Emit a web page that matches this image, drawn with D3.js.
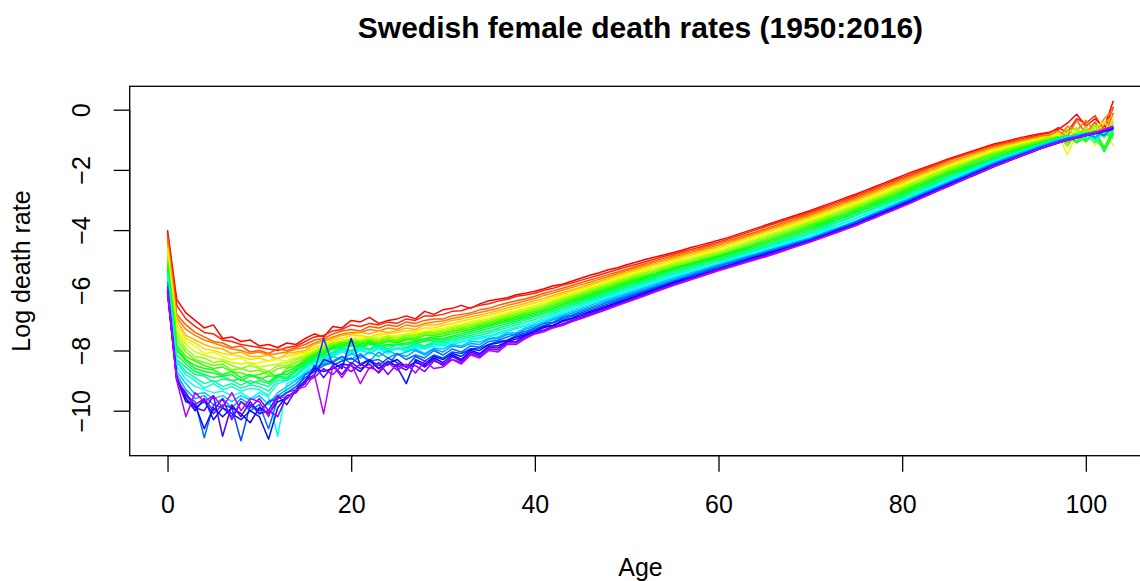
<!DOCTYPE html>
<html><head><meta charset="utf-8">
<script src="https://cdn.jsdelivr.net/npm/d3@7"></script>
<style>
html,body{margin:0;padding:0;background:#fff;overflow:hidden;}
text{font-family:"Liberation Sans",Arial,Helvetica,sans-serif;fill:#000;}
</style></head>
<body>
<svg id="chart" width="1140" height="581"></svg>
<script>
// ---- data (log death rates by age 0..103) ----
const titleText = "Swedish female death rates (1950:2016)";
const xLabel = "Age";
const yLabel = "Log death rate";
const xTicks = [0, 20, 40, 60, 80, 100];
const yTicks = [0, -2, -4, -6, -8, -10];
const firstYear = 1950, lastYear = 2016;
const ages = d3.range(0, 104);

const rate1950 = [-4.0,-6.3,-6.75,-7.0,-7.25,-7.15,-7.6,-7.55,-7.7,-7.65,
-7.85,-7.8,-7.9,-7.75,-7.8,-7.6,-7.45,-7.55,-7.2,-7.25,
-7.0,-7.05,-6.9,-7.1,-7.0,-6.95,-6.85,-6.95,-6.7,-6.8,
-6.65,-6.6,-6.5,-6.6,-6.45,-6.35,-6.3,-6.25,-6.15,-6.1,
-6.03,-5.95,-5.85,-5.8,-5.7,-5.6,-5.5,-5.42,-5.32,-5.25,
-5.15,-5.07,-4.98,-4.9,-4.83,-4.75,-4.67,-4.58,-4.5,-4.42,
-4.34,-4.25,-4.15,-4.05,-3.95,-3.85,-3.75,-3.65,-3.55,-3.45,
-3.35,-3.24,-3.13,-3.02,-2.91,-2.8,-2.68,-2.56,-2.44,-2.32,
-2.2,-2.08,-1.97,-1.86,-1.75,-1.64,-1.54,-1.44,-1.34,-1.24,
-1.14,-1.07,-1.0,-0.92,-0.86,-0.8,-0.75,-0.65,-0.45,-0.15,
-0.55,-0.3,-0.6,0.3];
const rate1952 = [-4.1,-6.5,-6.95,-7.2,-7.4,-7.45,-7.65,-7.7,-7.8,-7.85,
-7.9,-7.95,-8.0,-7.9,-7.85,-7.7,-7.55,-7.5,-7.35,-7.3,
-7.15,-7.2,-7.1,-7.15,-7.05,-7.1,-6.95,-7.0,-6.85,-6.85,
-6.8,-6.7,-6.68,-6.58,-6.5,-6.45,-6.36,-6.3,-6.2,-6.16,
-6.1,-6.0,-5.93,-5.83,-5.76,-5.67,-5.58,-5.49,-5.4,-5.31,
-5.22,-5.14,-5.05,-4.97,-4.88,-4.8,-4.72,-4.64,-4.56,-4.48,
-4.4,-4.3,-4.2,-4.1,-4.0,-3.9,-3.8,-3.7,-3.6,-3.5,
-3.4,-3.29,-3.18,-3.07,-2.96,-2.85,-2.73,-2.61,-2.49,-2.37,
-2.25,-2.14,-2.02,-1.91,-1.79,-1.68,-1.58,-1.48,-1.38,-1.28,
-1.18,-1.11,-1.04,-0.97,-0.9,-0.83,-0.78,-0.6,-0.75,-0.3,
-0.45,-0.2,-0.7,0.1];
const rate1955 = [-4.25,-6.8,-7.15,-7.4,-7.55,-7.7,-7.75,-7.9,-7.85,-8.05,
-8.0,-8.1,-7.95,-8.0,-7.9,-7.8,-7.65,-7.6,-7.45,-7.35,
-7.3,-7.35,-7.2,-7.25,-7.15,-7.2,-7.05,-7.1,-7.0,-6.95,
-6.95,-6.85,-6.8,-6.75,-6.65,-6.6,-6.5,-6.42,-6.35,-6.28,
-6.2,-6.1,-6.02,-5.93,-5.84,-5.75,-5.66,-5.57,-5.48,-5.39,
-5.3,-5.21,-5.12,-5.03,-4.94,-4.85,-4.77,-4.69,-4.61,-4.53,
-4.45,-4.35,-4.26,-4.16,-4.07,-3.97,-3.87,-3.76,-3.66,-3.55,
-3.45,-3.34,-3.23,-3.12,-3.01,-2.9,-2.78,-2.66,-2.54,-2.42,
-2.3,-2.18,-2.06,-1.94,-1.82,-1.7,-1.6,-1.5,-1.4,-1.3,
-1.21,-1.14,-1.07,-1.0,-0.93,-0.87,-0.85,-0.7,-0.9,-0.35,
-0.8,-0.4,-0.9,-0.1];
const rate1957 = [-4.35,-6.9,-7.3,-7.5,-7.65,-7.75,-7.85,-7.95,-8.0,-8.1,
-8.05,-8.15,-8.1,-8.05,-7.95,-7.9,-7.75,-7.65,-7.55,-7.45,
-7.4,-7.4,-7.3,-7.35,-7.25,-7.3,-7.15,-7.2,-7.1,-7.05,
-7.02,-6.94,-6.88,-6.8,-6.74,-6.67,-6.6,-6.5,-6.43,-6.35,
-6.27,-6.17,-6.09,-6.0,-5.91,-5.82,-5.73,-5.63,-5.54,-5.44,
-5.35,-5.26,-5.17,-5.08,-4.99,-4.9,-4.82,-4.74,-4.66,-4.58,
-4.5,-4.4,-4.31,-4.21,-4.12,-4.02,-3.92,-3.81,-3.71,-3.6,
-3.5,-3.39,-3.28,-3.17,-3.06,-2.95,-2.83,-2.71,-2.59,-2.47,
-2.35,-2.23,-2.11,-2.0,-1.88,-1.76,-1.66,-1.56,-1.45,-1.35,
-1.25,-1.18,-1.11,-1.04,-0.97,-0.9,-0.82,-0.95,-0.55,-0.7,
-0.35,-0.75,-0.3,0.0];
const rate1960 = [-4.5,-7.0,-7.5,-7.65,-7.8,-7.9,-7.95,-8.1,-8.05,-8.2,
-8.2,-8.15,-8.3,-8.1,-8.05,-8.0,-7.8,-7.7,-7.6,-7.5,
-7.45,-7.4,-7.45,-7.35,-7.4,-7.35,-7.25,-7.3,-7.15,-7.15,
-7.1,-7.0,-6.95,-6.88,-6.82,-6.75,-6.67,-6.59,-6.51,-6.43,
-6.35,-6.26,-6.17,-6.08,-5.99,-5.9,-5.8,-5.7,-5.6,-5.5,
-5.4,-5.31,-5.22,-5.13,-5.04,-4.95,-4.87,-4.79,-4.71,-4.63,
-4.55,-4.45,-4.35,-4.25,-4.15,-4.05,-3.95,-3.85,-3.75,-3.65,
-3.55,-3.44,-3.33,-3.22,-3.11,-3.0,-2.88,-2.76,-2.64,-2.52,
-2.4,-2.28,-2.16,-2.04,-1.92,-1.8,-1.69,-1.58,-1.47,-1.37,
-1.28,-1.2,-1.13,-1.06,-0.99,-0.93,-0.88,-1.0,-0.65,-0.9,
-0.55,-0.95,-0.45,-0.2];
const rate1962 = [-4.6,-7.15,-7.6,-7.75,-7.95,-8.0,-8.1,-8.15,-8.2,-8.3,
-8.25,-8.35,-8.25,-8.2,-8.1,-8.05,-7.9,-7.8,-7.65,-7.6,
-7.5,-7.5,-7.55,-7.45,-7.45,-7.4,-7.35,-7.35,-7.25,-7.25,
-7.17,-7.1,-7.03,-6.96,-6.89,-6.82,-6.74,-6.66,-6.58,-6.5,
-6.42,-6.33,-6.23,-6.14,-6.04,-5.95,-5.85,-5.75,-5.65,-5.55,
-5.45,-5.36,-5.27,-5.18,-5.09,-5.0,-4.92,-4.84,-4.76,-4.68,
-4.6,-4.5,-4.4,-4.3,-4.2,-4.1,-4.0,-3.9,-3.8,-3.7,
-3.6,-3.49,-3.38,-3.27,-3.16,-3.05,-2.93,-2.81,-2.69,-2.57,
-2.45,-2.33,-2.21,-2.09,-1.97,-1.85,-1.74,-1.64,-1.53,-1.43,
-1.32,-1.25,-1.17,-1.1,-1.02,-0.95,-0.9,-0.8,-1.1,-0.6,
-0.9,-0.5,-0.95,-0.3];
const rate1965 = [-4.7,-7.3,-7.7,-7.85,-8.1,-8.05,-8.2,-8.3,-8.25,-8.45,
-8.4,-8.35,-8.3,-8.35,-8.15,-8.1,-7.95,-7.85,-7.7,-7.65,
-7.6,-7.55,-7.6,-7.5,-7.55,-7.5,-7.45,-7.4,-7.35,-7.3,
-7.25,-7.18,-7.11,-7.04,-6.97,-6.9,-6.82,-6.74,-6.66,-6.58,
-6.5,-6.4,-6.3,-6.2,-6.1,-6.0,-5.9,-5.8,-5.7,-5.6,
-5.5,-5.41,-5.32,-5.23,-5.14,-5.05,-4.97,-4.89,-4.81,-4.73,
-4.65,-4.55,-4.45,-4.35,-4.25,-4.15,-4.05,-3.95,-3.85,-3.75,
-3.65,-3.54,-3.43,-3.32,-3.21,-3.1,-2.98,-2.86,-2.74,-2.62,
-2.5,-2.37,-2.25,-2.13,-2.01,-1.89,-1.78,-1.67,-1.56,-1.45,
-1.35,-1.27,-1.19,-1.11,-1.04,-0.97,-0.95,-0.85,-1.5,-0.8,
-0.7,-1.2,-0.6,-1.2];
const rate1967 = [-4.8,-7.4,-7.8,-8.05,-8.15,-8.25,-8.3,-8.4,-8.45,-8.4,
-8.55,-8.5,-8.45,-8.4,-8.25,-8.15,-8.0,-7.85,-7.75,-7.7,
-7.6,-7.65,-7.55,-7.6,-7.5,-7.55,-7.45,-7.45,-7.4,-7.35,
-7.3,-7.23,-7.16,-7.09,-7.02,-6.95,-6.87,-6.79,-6.71,-6.63,
-6.55,-6.45,-6.35,-6.25,-6.15,-6.05,-5.95,-5.85,-5.75,-5.65,
-5.55,-5.46,-5.37,-5.28,-5.19,-5.1,-5.02,-4.94,-4.86,-4.78,
-4.7,-4.6,-4.5,-4.4,-4.3,-4.2,-4.1,-4.0,-3.9,-3.8,
-3.7,-3.59,-3.48,-3.37,-3.26,-3.15,-3.03,-2.91,-2.79,-2.67,
-2.55,-2.43,-2.3,-2.18,-2.05,-1.93,-1.82,-1.71,-1.61,-1.5,
-1.39,-1.31,-1.23,-1.15,-1.08,-1.0,-0.95,-0.75,-1.2,-0.7,
-1.1,-0.6,-0.4,-0.8];
const rate1970 = [-4.9,-7.5,-7.95,-8.2,-8.25,-8.4,-8.35,-8.5,-8.6,-8.5,
-8.6,-8.7,-8.5,-8.5,-8.3,-8.2,-8.05,-7.9,-7.75,-7.7,
-7.65,-7.7,-7.6,-7.65,-7.55,-7.6,-7.5,-7.5,-7.4,-7.4,
-7.35,-7.28,-7.21,-7.14,-7.07,-7.0,-6.92,-6.84,-6.76,-6.68,
-6.6,-6.5,-6.4,-6.3,-6.2,-6.1,-6.0,-5.9,-5.8,-5.7,
-5.6,-5.51,-5.42,-5.33,-5.24,-5.15,-5.07,-4.99,-4.91,-4.83,
-4.75,-4.65,-4.55,-4.45,-4.35,-4.25,-4.15,-4.05,-3.95,-3.85,
-3.75,-3.64,-3.53,-3.42,-3.31,-3.2,-3.08,-2.96,-2.84,-2.72,
-2.6,-2.47,-2.34,-2.21,-2.09,-1.97,-1.86,-1.75,-1.64,-1.53,
-1.43,-1.34,-1.25,-1.17,-1.09,-1.02,-0.9,-1.05,-0.75,-0.6,
-0.95,-0.5,-0.85,-0.4];
const rate1972 = [-5.0,-7.65,-8.05,-8.3,-8.4,-8.5,-8.45,-8.65,-8.6,-8.7,
-8.65,-8.8,-8.6,-8.55,-8.4,-8.25,-8.1,-7.95,-7.8,-7.75,
-7.7,-7.7,-7.65,-7.7,-7.6,-7.65,-7.55,-7.55,-7.45,-7.45,
-7.4,-7.33,-7.26,-7.19,-7.12,-7.05,-6.97,-6.89,-6.81,-6.73,
-6.65,-6.55,-6.45,-6.35,-6.25,-6.15,-6.05,-5.95,-5.85,-5.75,
-5.65,-5.56,-5.47,-5.38,-5.29,-5.2,-5.12,-5.04,-4.96,-4.88,
-4.8,-4.7,-4.6,-4.5,-4.4,-4.3,-4.2,-4.1,-4.0,-3.9,
-3.8,-3.69,-3.58,-3.47,-3.36,-3.25,-3.13,-3.01,-2.89,-2.77,
-2.65,-2.52,-2.4,-2.27,-2.15,-2.02,-1.91,-1.8,-1.68,-1.57,
-1.46,-1.38,-1.3,-1.21,-1.13,-1.05,-0.98,-0.9,-1.2,-0.8,
-0.65,-1.0,-0.7,-0.5];
const rate1975 = [-5.1,-7.8,-8.2,-8.35,-8.5,-8.6,-8.55,-8.7,-8.75,-8.85,
-8.8,-8.7,-8.9,-8.6,-8.5,-8.3,-8.1,-8.0,-7.85,-7.75,
-7.7,-7.75,-7.7,-7.75,-7.65,-7.7,-7.6,-7.6,-7.5,-7.5,
-7.45,-7.38,-7.31,-7.24,-7.17,-7.1,-7.02,-6.94,-6.86,-6.78,
-6.7,-6.6,-6.5,-6.4,-6.3,-6.2,-6.1,-6.0,-5.9,-5.8,
-5.7,-5.61,-5.52,-5.43,-5.34,-5.25,-5.17,-5.09,-5.01,-4.93,
-4.85,-4.75,-4.65,-4.55,-4.45,-4.35,-4.25,-4.15,-4.05,-3.95,
-3.85,-3.74,-3.63,-3.52,-3.41,-3.3,-3.18,-3.06,-2.94,-2.82,
-2.7,-2.57,-2.44,-2.31,-2.19,-2.07,-1.95,-1.83,-1.71,-1.6,
-1.5,-1.41,-1.32,-1.24,-1.16,-1.08,-1.0,-0.9,-1.1,-0.85,
-0.75,-1.0,-1.3,-0.6];
const rate1977 = [-5.2,-7.9,-8.3,-8.5,-8.6,-8.65,-8.8,-8.7,-8.9,-8.8,
-8.95,-8.85,-8.85,-8.7,-8.55,-8.35,-8.15,-8.05,-7.9,-7.8,
-7.75,-7.8,-7.7,-7.8,-7.7,-7.75,-7.65,-7.65,-7.6,-7.55,
-7.52,-7.44,-7.37,-7.3,-7.22,-7.15,-7.07,-6.99,-6.91,-6.83,
-6.75,-6.65,-6.55,-6.45,-6.35,-6.25,-6.15,-6.05,-5.95,-5.85,
-5.75,-5.66,-5.56,-5.47,-5.37,-5.28,-5.2,-5.12,-5.03,-4.95,
-4.87,-4.78,-4.68,-4.59,-4.49,-4.4,-4.3,-4.2,-4.1,-4.0,
-3.9,-3.79,-3.68,-3.57,-3.46,-3.35,-3.23,-3.11,-2.99,-2.87,
-2.75,-2.62,-2.49,-2.37,-2.24,-2.11,-2.0,-1.89,-1.77,-1.66,
-1.55,-1.46,-1.37,-1.29,-1.2,-1.11,-1.03,-0.95,-0.85,-1.1,
-0.9,-0.7,-1.25,-0.75];
const rate1980 = [-5.3,-8.0,-8.35,-8.6,-8.7,-8.75,-8.85,-8.8,-9.0,-8.85,
-8.9,-9.05,-8.8,-8.8,-8.6,-8.4,-8.2,-8.1,-7.9,-7.85,
-7.8,-7.85,-7.75,-7.85,-7.8,-7.8,-7.75,-7.7,-7.65,-7.6,
-7.6,-7.52,-7.44,-7.36,-7.28,-7.2,-7.12,-7.04,-6.96,-6.88,
-6.8,-6.7,-6.6,-6.5,-6.4,-6.3,-6.2,-6.1,-6.0,-5.9,
-5.8,-5.7,-5.6,-5.5,-5.4,-5.3,-5.22,-5.14,-5.06,-4.98,
-4.9,-4.81,-4.72,-4.63,-4.54,-4.45,-4.35,-4.25,-4.15,-4.05,
-3.95,-3.84,-3.73,-3.62,-3.51,-3.4,-3.28,-3.16,-3.04,-2.92,
-2.8,-2.67,-2.54,-2.41,-2.28,-2.15,-2.04,-1.93,-1.82,-1.71,
-1.6,-1.51,-1.42,-1.33,-1.24,-1.15,-1.05,-0.95,-0.85,-1.05,
-0.8,-0.7,-1.4,-0.8];
const rate1982 = [-5.35,-8.15,-8.45,-8.7,-8.8,-8.9,-8.85,-9.0,-8.95,-9.1,
-9.0,-9.1,-8.85,-8.9,-8.65,-8.45,-8.25,-8.15,-7.95,-7.9,
-7.85,-7.9,-7.8,-7.85,-7.85,-7.8,-7.8,-7.75,-7.7,-7.65,
-7.65,-7.57,-7.5,-7.42,-7.35,-7.27,-7.19,-7.1,-7.02,-6.93,
-6.85,-6.75,-6.65,-6.55,-6.45,-6.35,-6.25,-6.15,-6.05,-5.95,
-5.85,-5.75,-5.65,-5.55,-5.45,-5.35,-5.27,-5.19,-5.11,-5.03,
-4.95,-4.86,-4.77,-4.68,-4.59,-4.5,-4.4,-4.3,-4.2,-4.1,
-4.0,-3.89,-3.78,-3.66,-3.55,-3.44,-3.32,-3.2,-3.09,-2.97,
-2.85,-2.72,-2.59,-2.46,-2.33,-2.2,-2.08,-1.97,-1.85,-1.74,
-1.62,-1.53,-1.43,-1.34,-1.24,-1.15,-1.06,-0.98,-0.92,-0.85,
-1.05,-0.8,-0.75,-0.95];
const rate1985 = [-5.4,-8.3,-8.55,-8.8,-8.85,-9.05,-8.95,-9.0,-9.15,-9.0,
-9.1,-9.2,-8.9,-8.95,-8.7,-8.5,-8.3,-8.2,-8.05,-7.9,
-8.0,-7.85,-7.95,-7.8,-7.95,-7.8,-7.9,-7.75,-7.85,-7.7,
-7.7,-7.63,-7.56,-7.49,-7.42,-7.35,-7.26,-7.17,-7.08,-6.99,
-6.9,-6.8,-6.7,-6.6,-6.5,-6.4,-6.3,-6.2,-6.1,-6.0,
-5.9,-5.8,-5.7,-5.6,-5.5,-5.4,-5.32,-5.24,-5.16,-5.08,
-5.0,-4.91,-4.82,-4.73,-4.64,-4.55,-4.45,-4.35,-4.25,-4.15,
-4.05,-3.94,-3.83,-3.72,-3.61,-3.5,-3.38,-3.26,-3.14,-3.02,
-2.9,-2.77,-2.64,-2.51,-2.38,-2.25,-2.13,-2.01,-1.89,-1.77,
-1.65,-1.55,-1.45,-1.35,-1.25,-1.15,-1.05,-0.95,-0.9,-0.8,
-1.0,-0.75,-0.9,-0.7];
const rate1987 = [-5.45,-8.35,-8.7,-8.9,-9.1,-9.0,-9.2,-9.1,-9.25,-9.15,
-9.2,-9.35,-9.0,-9.0,-8.8,-8.55,-8.35,-8.25,-8.1,-7.95,
-8.05,-7.9,-8.0,-7.85,-8.0,-7.9,-7.95,-7.8,-7.9,-7.75,
-7.75,-7.68,-7.62,-7.55,-7.49,-7.42,-7.33,-7.24,-7.15,-7.06,
-6.97,-6.87,-6.76,-6.66,-6.55,-6.45,-6.35,-6.25,-6.15,-6.05,
-5.95,-5.85,-5.75,-5.65,-5.55,-5.45,-5.37,-5.29,-5.21,-5.13,
-5.05,-4.96,-4.86,-4.77,-4.67,-4.58,-4.48,-4.39,-4.29,-4.2,
-4.1,-3.98,-3.87,-3.75,-3.64,-3.52,-3.41,-3.29,-3.18,-3.06,
-2.95,-2.82,-2.68,-2.55,-2.41,-2.28,-2.16,-2.04,-1.92,-1.8,
-1.68,-1.58,-1.48,-1.37,-1.27,-1.17,-1.08,-0.98,-0.9,-0.85,
-0.75,-0.95,-0.65,-0.7];
const rate1990 = [-5.5,-8.4,-8.8,-9.0,-9.25,-9.1,-9.3,-9.2,-9.35,-9.25,
-9.3,-9.5,-9.1,-9.0,-8.85,-8.6,-8.4,-8.3,-8.15,-8.0,
-8.1,-7.95,-8.1,-7.9,-8.05,-7.95,-8.0,-7.85,-7.95,-7.8,
-7.8,-7.74,-7.68,-7.62,-7.56,-7.5,-7.41,-7.32,-7.23,-7.14,
-7.05,-6.94,-6.83,-6.72,-6.61,-6.5,-6.4,-6.3,-6.2,-6.1,
-6.0,-5.9,-5.8,-5.7,-5.6,-5.5,-5.42,-5.34,-5.26,-5.18,
-5.1,-5.0,-4.9,-4.8,-4.7,-4.6,-4.51,-4.42,-4.33,-4.24,
-4.15,-4.04,-3.93,-3.82,-3.71,-3.6,-3.48,-3.36,-3.24,-3.12,
-3.0,-2.86,-2.72,-2.58,-2.44,-2.3,-2.18,-2.06,-1.94,-1.82,
-1.7,-1.6,-1.5,-1.4,-1.3,-1.2,-1.1,-1.0,-0.9,-0.95,
-0.8,-1.1,-0.7,-0.6];
const rate1992 = [-5.6,-8.55,-8.95,-9.2,-9.3,-9.4,-9.35,-9.5,-9.4,-9.6,
-9.4,-9.55,-10.85,-9.1,-8.95,-8.7,-8.45,-8.35,-8.2,-8.05,
-8.15,-8.0,-8.1,-7.95,-8.1,-7.9,-8.05,-7.9,-7.95,-7.85,
-7.85,-7.79,-7.73,-7.67,-7.61,-7.55,-7.46,-7.37,-7.28,-7.19,
-7.1,-6.99,-6.88,-6.77,-6.66,-6.55,-6.45,-6.35,-6.25,-6.15,
-6.05,-5.95,-5.85,-5.75,-5.65,-5.55,-5.46,-5.38,-5.29,-5.21,
-5.12,-5.03,-4.93,-4.84,-4.74,-4.65,-4.56,-4.47,-4.38,-4.29,
-4.2,-4.08,-3.97,-3.85,-3.74,-3.62,-3.5,-3.38,-3.26,-3.14,
-3.02,-2.89,-2.75,-2.62,-2.48,-2.35,-2.22,-2.1,-1.97,-1.85,
-1.72,-1.62,-1.51,-1.41,-1.3,-1.2,-1.1,-1.02,-0.93,-0.88,
-0.9,-0.75,-0.85,-0.6];
const rate1995 = [-5.7,-8.7,-9.1,-9.45,-9.4,-9.6,-9.5,-9.7,-9.5,-9.65,
-9.5,-9.8,-9.4,-9.2,-9.0,-8.75,-8.55,-8.4,-8.2,-8.3,
-8.1,-8.25,-8.05,-8.2,-8.0,-8.15,-8.05,-7.95,-8.1,-7.92,
-7.95,-7.8,-7.85,-7.7,-7.72,-7.6,-7.55,-7.42,-7.4,-7.24,
-7.15,-7.04,-6.93,-6.82,-6.71,-6.6,-6.5,-6.4,-6.3,-6.2,
-6.1,-6.0,-5.9,-5.8,-5.7,-5.6,-5.51,-5.42,-5.33,-5.24,
-5.15,-5.06,-4.97,-4.88,-4.79,-4.7,-4.61,-4.52,-4.43,-4.34,
-4.25,-4.14,-4.03,-3.92,-3.81,-3.7,-3.57,-3.44,-3.31,-3.18,
-3.05,-2.92,-2.79,-2.66,-2.53,-2.4,-2.27,-2.14,-2.01,-1.88,
-1.75,-1.64,-1.53,-1.42,-1.31,-1.2,-1.1,-1.0,-0.95,-0.85,
-0.8,-0.95,-0.7,-0.55];
const rate1997 = [-5.75,-8.8,-9.3,-9.6,-9.5,-9.8,-9.6,-9.9,-9.6,-9.8,
-10.1,-9.7,-9.5,-9.3,-9.1,-8.8,-8.6,-8.45,-8.35,-8.2,
-8.3,-8.1,-8.35,-8.05,-8.25,-8.1,-8.2,-8.0,-8.15,-7.95,
-8.05,-7.85,-7.9,-7.77,-7.8,-7.62,-7.6,-7.47,-7.45,-7.29,
-7.2,-7.09,-6.98,-6.87,-6.76,-6.65,-6.55,-6.45,-6.35,-6.25,
-6.15,-6.05,-5.95,-5.85,-5.75,-5.65,-5.55,-5.46,-5.36,-5.27,
-5.17,-5.08,-4.99,-4.9,-4.81,-4.72,-4.63,-4.54,-4.45,-4.36,
-4.27,-4.16,-4.04,-3.93,-3.81,-3.7,-3.57,-3.45,-3.32,-3.2,
-3.07,-2.94,-2.81,-2.68,-2.55,-2.42,-2.29,-2.16,-2.03,-1.9,
-1.77,-1.66,-1.55,-1.44,-1.33,-1.22,-1.12,-1.03,-0.95,-0.88,
-0.82,-0.9,-0.72,-0.6];
const rate2000 = [-5.85,-8.9,-9.5,-9.7,-10.9,-9.8,-9.9,-10.2,-9.7,-10.0,
-9.8,-10.6,-9.6,-9.4,-9.3,-8.8,-8.7,-8.5,-8.4,-8.2,
-8.45,-8.15,-8.35,-8.3,-8.5,-8.1,-8.3,-8.15,-8.25,-8.0,
-8.15,-7.95,-8.05,-7.85,-7.88,-7.7,-7.66,-7.55,-7.45,-7.36,
-7.25,-7.1,-7.06,-6.9,-6.83,-6.7,-6.6,-6.5,-6.4,-6.3,
-6.2,-6.1,-6.0,-5.9,-5.8,-5.7,-5.6,-5.5,-5.4,-5.3,
-5.2,-5.11,-5.02,-4.93,-4.84,-4.75,-4.66,-4.57,-4.48,-4.39,
-4.3,-4.19,-4.08,-3.96,-3.85,-3.73,-3.6,-3.48,-3.35,-3.23,
-3.1,-2.97,-2.84,-2.71,-2.58,-2.45,-2.32,-2.19,-2.06,-1.93,
-1.8,-1.69,-1.58,-1.47,-1.36,-1.25,-1.15,-1.05,-0.95,-0.9,
-0.8,-0.75,-0.85,-0.6];
const rate2002 = [-5.9,-8.9,-9.6,-9.9,-9.7,-10.1,-9.8,-9.9,-11.0,-9.8,
-10.0,-9.7,-9.6,-9.4,-9.2,-8.9,-8.7,-7.6,-8.5,-8.35,
-8.25,-8.45,-8.3,-8.5,-8.25,-8.4,-8.55,-8.2,-8.35,-8.15,
-8.25,-8.05,-8.1,-7.95,-7.92,-7.8,-7.7,-7.66,-7.5,-7.42,
-7.3,-7.17,-7.08,-6.95,-6.86,-6.75,-6.65,-6.55,-6.45,-6.35,
-6.25,-6.14,-6.04,-5.93,-5.83,-5.72,-5.63,-5.53,-5.44,-5.34,
-5.25,-5.16,-5.06,-4.97,-4.87,-4.78,-4.69,-4.6,-4.5,-4.41,
-4.32,-4.21,-4.1,-3.98,-3.87,-3.76,-3.63,-3.5,-3.38,-3.25,
-3.12,-2.99,-2.86,-2.73,-2.6,-2.47,-2.34,-2.21,-2.08,-1.95,
-1.82,-1.71,-1.6,-1.49,-1.38,-1.27,-1.17,-1.08,-1.0,-0.92,
-0.86,-0.8,-0.72,-0.62];
const rate2005 = [-6.0,-8.9,-9.6,-10.0,-9.6,-10.3,-9.9,-10.1,-10.3,-10.0,
-10.2,-10.95,-9.9,-9.5,-9.4,-9.0,-8.8,-8.3,-8.4,-8.6,
-7.6,-8.5,-8.3,-8.6,-8.35,-8.55,-9.1,-8.3,-8.45,-8.2,
-8.3,-8.1,-8.2,-7.95,-8.0,-7.8,-7.75,-7.66,-7.55,-7.47,
-7.35,-7.2,-7.16,-7.0,-6.93,-6.8,-6.7,-6.6,-6.5,-6.4,
-6.3,-6.19,-6.08,-5.97,-5.86,-5.75,-5.66,-5.57,-5.48,-5.39,
-5.3,-5.2,-5.1,-5.0,-4.9,-4.82,-4.72,-4.63,-4.54,-4.44,
-4.35,-4.24,-4.13,-4.02,-3.91,-3.8,-3.67,-3.54,-3.41,-3.28,
-3.15,-3.02,-2.89,-2.76,-2.63,-2.5,-2.37,-2.24,-2.11,-1.98,
-1.85,-1.74,-1.63,-1.52,-1.41,-1.3,-1.2,-1.1,-1.0,-0.92,
-0.85,-0.78,-0.72,-0.65];
const rate2007 = [-6.05,-8.95,-9.7,-9.8,-10.6,-9.9,-10.2,-9.9,-10.1,-10.4,
-9.9,-10.1,-9.7,-9.6,-9.3,-9.0,-8.6,-8.7,-8.6,-8.45,
-8.5,-8.7,-8.35,-8.6,-8.45,-8.3,-8.55,-8.4,-8.5,-8.25,
-8.4,-8.15,-8.3,-8.0,-8.1,-7.85,-7.85,-7.7,-7.62,-7.5,
-7.37,-7.24,-7.17,-7.04,-6.95,-6.85,-6.74,-6.64,-6.53,-6.43,
-6.32,-6.21,-6.1,-6.0,-5.89,-5.78,-5.68,-5.59,-5.49,-5.4,
-5.3,-5.21,-5.11,-5.02,-4.92,-4.83,-4.73,-4.64,-4.54,-4.45,
-4.35,-4.24,-4.13,-4.02,-3.91,-3.8,-3.67,-3.55,-3.42,-3.3,
-3.17,-3.04,-2.91,-2.78,-2.65,-2.52,-2.39,-2.26,-2.13,-2.0,
-1.87,-1.76,-1.64,-1.53,-1.41,-1.3,-1.2,-1.1,-1.01,-0.93,
-0.86,-0.78,-0.7,-0.62];
const rate2010 = [-6.1,-9.0,-9.4,-9.9,-10.0,-9.5,-10.85,-9.8,-10.2,-9.7,
-10.1,-10.0,-9.5,-9.8,-9.3,-9.1,-8.5,-8.9,-8.5,-8.8,
-8.4,-8.6,-8.45,-8.75,-8.4,-8.5,-8.65,-8.35,-8.55,-8.3,
-8.5,-8.2,-8.35,-8.05,-8.15,-7.9,-7.92,-7.72,-7.7,-7.52,
-7.4,-7.32,-7.2,-7.12,-7.0,-6.9,-6.79,-6.68,-6.57,-6.46,
-6.35,-6.24,-6.13,-6.02,-5.91,-5.8,-5.7,-5.6,-5.5,-5.4,
-5.3,-5.21,-5.12,-5.03,-4.94,-4.85,-4.75,-4.65,-4.55,-4.45,
-4.35,-4.24,-4.13,-4.03,-3.92,-3.82,-3.7,-3.57,-3.45,-3.32,
-3.2,-3.07,-2.94,-2.81,-2.68,-2.55,-2.42,-2.29,-2.16,-2.03,
-1.9,-1.78,-1.66,-1.54,-1.42,-1.3,-1.2,-1.1,-1.02,-0.95,
-0.85,-0.78,-0.7,-0.6];
const rate2013 = [-6.05,-8.95,-9.5,-9.8,-9.6,-10.0,-9.6,-10.3,-9.7,-9.9,
-9.6,-10.0,-10.2,-9.5,-9.4,-9.0,-8.9,-8.6,-8.8,-8.5,
-8.7,-8.45,-8.6,-8.4,-8.8,-8.45,-8.55,-8.5,-8.7,-8.35,
-8.45,-8.3,-8.4,-8.1,-8.2,-7.95,-7.98,-7.75,-7.75,-7.55,
-7.42,-7.33,-7.22,-7.13,-7.02,-6.92,-6.81,-6.7,-6.59,-6.48,
-6.37,-6.26,-6.15,-6.04,-5.93,-5.82,-5.72,-5.62,-5.52,-5.42,
-5.32,-5.23,-5.14,-5.04,-4.95,-4.86,-4.76,-4.66,-4.57,-4.47,
-4.37,-4.26,-4.15,-4.05,-3.94,-3.83,-3.7,-3.58,-3.45,-3.33,
-3.2,-3.07,-2.93,-2.8,-2.66,-2.53,-2.4,-2.27,-2.14,-2.01,
-1.88,-1.76,-1.65,-1.53,-1.42,-1.3,-1.2,-1.1,-1.01,-0.93,
-0.86,-0.78,-0.68,-0.58];
const rate2016 = [-6.0,-9.0,-10.2,-9.4,-9.7,-9.5,-9.9,-9.4,-10.0,-9.6,
-9.7,-10.2,-9.5,-9.6,-9.3,-9.2,-8.8,-10.1,-8.5,-8.9,
-8.45,-9.1,-8.55,-8.7,-8.4,-8.65,-8.45,-8.75,-8.35,-8.6,
-8.55,-8.3,-8.45,-8.15,-8.25,-8.0,-8.05,-7.8,-7.8,-7.6,
-7.45,-7.38,-7.25,-7.17,-7.05,-6.95,-6.84,-6.73,-6.62,-6.51,
-6.4,-6.29,-6.18,-6.07,-5.96,-5.85,-5.75,-5.65,-5.55,-5.45,
-5.35,-5.26,-5.17,-5.08,-4.99,-4.9,-4.8,-4.7,-4.6,-4.5,
-4.4,-4.29,-4.18,-4.07,-3.96,-3.85,-3.72,-3.6,-3.47,-3.35,
-3.22,-3.09,-2.95,-2.82,-2.68,-2.55,-2.41,-2.28,-2.14,-2.01,
-1.87,-1.76,-1.64,-1.53,-1.41,-1.3,-1.2,-1.1,-1.0,-0.92,
-0.85,-0.75,-0.65,-0.55];

const seriesYears = [1950,1952,1955,1957,1960,1962,1965,1967,1970,1972,1975,1977,1980,
  1982,1985,1987,1990,1992,1995,1997,2000,2002,2005,2007,2010,2013,2016];
const seriesRates = [rate1950,rate1952,rate1955,rate1957,rate1960,rate1962,rate1965,rate1967,
  rate1970,rate1972,rate1975,rate1977,rate1980,rate1982,rate1985,rate1987,rate1990,rate1992,
  rate1995,rate1997,rate2000,rate2002,rate2005,rate2007,rate2010,rate2013,rate2016];

// ---- drawing ----
const svg = d3.select("#chart");
const plotL = 129.7, plotR = 1151.2, plotT = 86.3, plotB = 455.7;

const x = d3.scaleLinear().domain([-4.12, 107.12]).range([plotL, plotR]);
const y = d3.scaleLinear().domain([-11.495, 0.777]).range([plotB, plotT]);

// R-like rainbow palette: rainbow(round(n*1.25)) over all years
const nYears = lastYear - firstYear + 1;
const nCols = Math.round(nYears * 1.25);
const colorFor = yr => d3.hsl(((yr - firstYear) / nCols) * 360, 1, 0.5).formatHex();

const line = d3.line().x((d, i) => x(ages[i])).y(d => y(d));

const g = svg.append("g");
seriesYears.forEach((yr, k) => {
  g.append("path")
    .datum(seriesRates[k])
    .attr("d", line)
    .attr("fill", "none")
    .attr("stroke", colorFor(yr))
    .attr("stroke-width", 1.5)
    .attr("stroke-linejoin", "round");
});

// box
svg.append("rect")
  .attr("x", plotL).attr("y", plotT)
  .attr("width", plotR - plotL).attr("height", plotB - plotT)
  .attr("fill", "none").attr("stroke", "#000").attr("stroke-width", 1.3);

// x axis
const xAxis = d3.axisBottom(x).tickValues(xTicks).tickSize(16).tickFormat(d3.format("d"));
const gx = svg.append("g").attr("transform", `translate(0,${plotB})`).call(xAxis);
gx.select(".domain").attr("d", `M${x(xTicks[0])},0H${x(xTicks[xTicks.length-1])}`).attr("stroke-width", 1.3);
gx.selectAll(".tick line").attr("stroke-width", 1.3);
gx.selectAll(".tick text").attr("font-size", 25).attr("font-family", "Liberation Sans, Arial, sans-serif")
  .attr("dy", null).attr("y", 57.5);

// y axis
const fmtY = d => d < 0 ? "\u2212" + Math.abs(d) : String(d);
const yAxis = d3.axisLeft(y).tickValues(yTicks).tickSize(16).tickFormat(fmtY);
const gy = svg.append("g").attr("transform", `translate(${plotL},0)`).call(yAxis);
gy.select(".domain").attr("d", `M0,${y(yTicks[0])}V${y(yTicks[yTicks.length-1])}`).attr("stroke-width", 1.3);
gy.selectAll(".tick line").attr("stroke-width", 1.3);
gy.selectAll(".tick text")
  .attr("font-size", 25).attr("font-family", "Liberation Sans, Arial, sans-serif")
  .attr("x", null).attr("dy", null)
  .attr("text-anchor", "middle")
  .attr("transform", "translate(-39.7,0) rotate(-90)");

// title and labels
svg.append("text").attr("x", (plotL + plotR) / 2).attr("y", 38)
  .attr("text-anchor", "middle").attr("font-size", 30).attr("font-weight", "bold")
  .text(titleText);
svg.append("text").attr("x", (plotL + plotR) / 2).attr("y", 576)
  .attr("text-anchor", "middle").attr("font-size", 25).text(xLabel);
svg.append("text").attr("transform", `translate(30,${(plotT + plotB) / 2}) rotate(-90)`)
  .attr("text-anchor", "middle").attr("font-size", 25).text(yLabel);
</script>
</body></html>
